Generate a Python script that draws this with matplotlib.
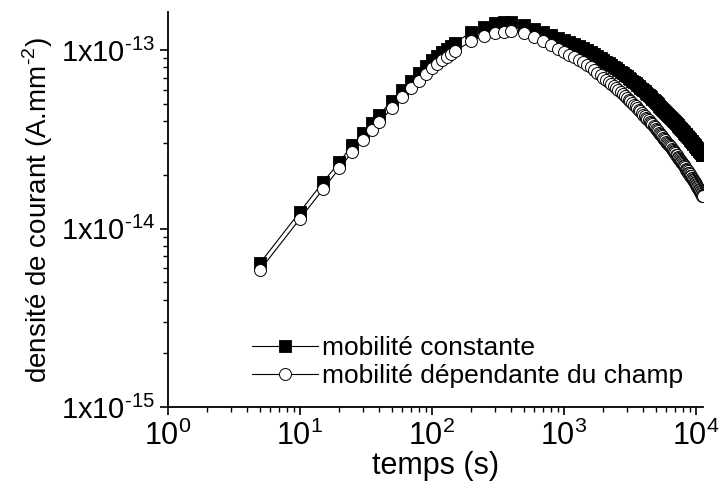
import numpy as np
import matplotlib
matplotlib.use("Agg")
import matplotlib.pyplot as plt
from matplotlib.ticker import LogLocator, NullFormatter

plt.rcParams['font.family'] = ['Liberation Sans', 'DejaVu Sans']
plt.rcParams['mathtext.fontset'] = 'custom'
plt.rcParams['mathtext.rm'] = 'Liberation Sans'

# temps (s) : pas de 5 s, puis 10 s, 50 s, puis 100 s
t_debut = [5, 10, 15, 20, 25, 30, 35, 40, 50, 60, 70, 80, 90, 100,
           110, 120, 130, 140, 150, 200, 250, 300, 350]
t_fin = list(range(400, 11400, 100))
temps = t_debut + t_fin

# densite de courant, en 1e-14 A.mm-2
j_const_debut = [0.641, 1.24, 1.82, 2.36, 2.94, 3.43, 3.92, 4.35, 5.2, 6.0,
                 6.75, 7.4, 8.1, 8.75, 9.3, 9.75, 10.2, 10.6, 11.0, 12.6,
                 13.5, 14.1, 14.3]
j_const_fin = [
    14.3, 13.8, 13.2, 12.6, 12.1, 11.7,
    11.4, 11.11, 10.82, 10.55, 10.28, 10.01, 9.76, 9.51, 9.26, 9.03,
    8.80, 8.62, 8.43, 8.26, 8.08, 7.91, 7.75, 7.58, 7.43, 7.27,
    7.12, 6.99, 6.87, 6.75, 6.63, 6.51, 6.40, 6.28, 6.17, 6.07,
    5.96, 5.87, 5.78, 5.69, 5.60, 5.51, 5.43, 5.34, 5.26, 5.18,
    5.10, 5.03, 4.96, 4.89, 4.82, 4.76, 4.69, 4.63, 4.56, 4.50,
    4.44, 4.39, 4.33, 4.28, 4.23, 4.18, 4.12, 4.07, 4.03, 3.98,
    3.93, 3.89, 3.84, 3.80, 3.76, 3.71, 3.67, 3.63, 3.59, 3.55,
    3.51, 3.47, 3.44, 3.40, 3.37, 3.34, 3.30, 3.27, 3.24, 3.20,
    3.17, 3.14, 3.11, 3.08, 3.05, 3.02, 2.99, 2.96, 2.93, 2.91,
    2.88, 2.85, 2.83, 2.80, 2.78, 2.76, 2.73, 2.71, 2.69, 2.66,
    2.64, 2.62, 2.59, 2.57]

j_champ_debut = [0.586, 1.13, 1.66, 2.18, 2.68, 3.13, 3.56, 3.95, 4.73, 5.45,
                 6.12, 6.70, 7.34, 7.93, 8.4, 8.8, 9.2, 9.55, 9.9, 11.2,
                 12.0, 12.4, 12.7]
j_champ_fin = [
    12.8, 12.4, 11.8, 11.2, 10.7, 10.2,
    9.75, 9.43, 9.12, 8.83, 8.54, 8.26, 7.99, 7.73, 7.48, 7.24,
    7.00, 6.82, 6.65, 6.48, 6.31, 6.15, 5.99, 5.84, 5.69, 5.54,
    5.40, 5.28, 5.17, 5.06, 4.95, 4.85, 4.74, 4.64, 4.54, 4.45,
    4.35, 4.27, 4.19, 4.12, 4.04, 3.97, 3.90, 3.83, 3.76, 3.69,
    3.62, 3.56, 3.50, 3.45, 3.39, 3.33, 3.28, 3.23, 3.17, 3.12,
    3.07, 3.02, 2.98, 2.93, 2.89, 2.85, 2.80, 2.76, 2.72, 2.68,
    2.64, 2.60, 2.57, 2.53, 2.49, 2.46, 2.42, 2.39, 2.36, 2.32,
    2.29, 2.26, 2.23, 2.20, 2.17, 2.14, 2.12, 2.09, 2.06, 2.04,
    2.01, 1.98, 1.96, 1.93, 1.91, 1.89, 1.86, 1.84, 1.82, 1.79,
    1.77, 1.75, 1.73, 1.71, 1.69, 1.67, 1.65, 1.63, 1.61, 1.59,
    1.57, 1.55, 1.53, 1.515]

j_const = np.array(j_const_debut + j_const_fin) * 1e-14
j_champ = np.array(j_champ_debut + j_champ_fin) * 1e-14

x_ticks = [1, 10, 100, 1000, 10000]
x_labels = [r'$\mathregular{10^{%d}}$' % k for k in range(5)]
y_ticks = [1e-15, 1e-14, 1e-13]
y_labels = [r'1x10$^{\text{-15}}$', r'1x10$^{\text{-14}}$', r'1x10$^{\text{-13}}$']

fig = plt.figure(figsize=(7.2, 4.87), dpi=100)
ax = fig.add_axes([0.233, 0.164, 0.743, 0.811])

ax.plot(temps, j_const, '-', color='black', lw=0.8, marker='s', ms=8.3,
        mfc='black', mec='black', mew=0.6, label='mobilité constante')
ax.plot(temps, j_champ, '-', color='black', lw=0.8, marker='o', ms=8.6,
        mfc='white', mec='black', mew=0.7, label='mobilité dépendante du champ')

ax.set_xscale('log')
ax.set_yscale('log')
ax.set_xlim(1, 1.13e4)
ax.set_ylim(1e-15, 1.63e-13)

ax.set_xticks(x_ticks)
ax.set_xticklabels(x_labels)
ax.xaxis.set_minor_locator(LogLocator(base=10, subs=np.arange(2, 10)))
ax.xaxis.set_minor_formatter(NullFormatter())

ax.set_yticks(y_ticks)
ax.set_yticklabels(y_labels)
ax.yaxis.set_minor_locator(LogLocator(base=10, subs=np.arange(2, 10)))
ax.yaxis.set_minor_formatter(NullFormatter())

ax.tick_params(axis='x', which='major', labelsize=22, length=6, width=1.2, pad=4)
ax.tick_params(axis='y', which='major', labelsize=21, length=6, width=1.2, pad=3)
ax.tick_params(which='minor', length=3.5, width=1.0)

for s in ['top', 'right']:
    ax.spines[s].set_visible(False)
for s in ['left', 'bottom']:
    ax.spines[s].set_linewidth(1.3)

ax.set_xlabel('temps (s)', fontsize=22, labelpad=-1)
ax.set_ylabel(r'densité de courant (A.mm$^{\text{-2}}$)', fontsize=20, labelpad=4)

ax.legend(loc='center left', bbox_to_anchor=(0.113, 0.114), frameon=False,
          fontsize=19, handlelength=2.5, handletextpad=0.15, labelspacing=0.15)

fig.savefig('out.png', dpi=100)
